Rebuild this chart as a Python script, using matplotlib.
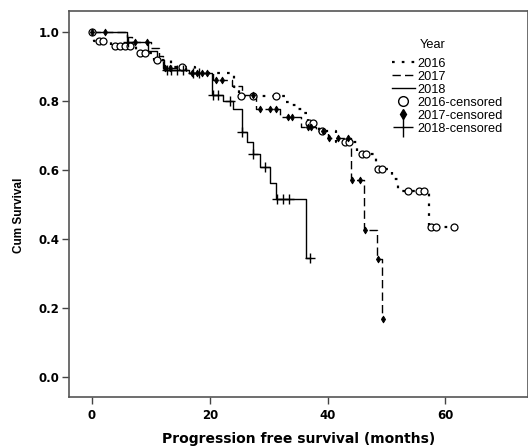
import numpy as np
import matplotlib
matplotlib.use("Agg")
import matplotlib.pyplot as plt
from matplotlib.lines import Line2D

plt.rcParams['font.family'] = ['Liberation Sans', 'DejaVu Sans']

# Kaplan-Meier step curves (time in months, cumulative survival)
t16 = [0, 0.3, 3.2, 7.5, 10.5, 13.5, 17.5, 24.2, 25.0, 32.8, 33.8, 34.8, 35.8, 36.6, 38.5, 41.5, 45.0, 48.2, 51.0, 52.0, 57.3, 61.5]
s16 = [1.0, 0.975, 0.96, 0.94, 0.92, 0.90, 0.88, 0.84, 0.814, 0.798, 0.788, 0.777, 0.765, 0.737, 0.714, 0.68, 0.646, 0.603, 0.575, 0.54, 0.434, 0.434]
c16 = [0, 1.2, 1.9, 3.9, 4.7, 5.6, 6.4, 8.1, 9.0, 11.1, 15.3, 25.3, 27.3, 31.3, 36.9, 37.6, 39.0,
       42.9, 43.6, 45.9, 46.6, 48.6, 49.3, 53.6, 55.6, 56.3, 57.6, 58.4, 61.5]

t17 = [0, 5.9, 6.8, 10.0, 11.3, 12.0, 16.0, 20.5, 23.8, 25.5, 27.8, 32.0, 35.5, 38.0, 40.0, 44.0, 46.2, 48.4, 49.3]
s17 = [1.0, 0.985, 0.97, 0.955, 0.93, 0.895, 0.88, 0.861, 0.843, 0.817, 0.777, 0.754, 0.725, 0.714, 0.693, 0.571, 0.426, 0.342, 0.168]
c17 = [0, 2.2, 7.3, 9.3, 12.4, 13.2, 17.0, 17.8, 18.6, 19.5, 21.1, 22.0, 27.3, 28.5, 30.2, 31.3,
       33.2, 34.0, 36.6, 37.2, 39.3, 40.3, 41.7, 43.4, 44.2, 45.5, 46.4, 48.5, 49.4]

t18 = [0, 6.0, 9.5, 11.0, 12.3, 16.5, 20.3, 22.2, 23.9, 25.4, 26.4, 27.3, 28.5, 30.3, 31.2, 36.4, 37.1]
s18 = [1.0, 0.97, 0.945, 0.92, 0.89, 0.88, 0.817, 0.80, 0.777, 0.711, 0.68, 0.646, 0.61, 0.562, 0.516, 0.345, 0.345]
c18 = [6.1, 12.8, 13.5, 14.5, 15.5, 17.2, 18.2, 20.5, 21.4, 23.4, 25.5, 27.4, 29.3, 31.4, 32.4, 33.4, 37.1]

years = ['2016', '2017', '2018']
xticks = [0, 20, 40, 60]
yticks = [0.0, 0.2, 0.4, 0.6, 0.8, 1.0]


def surv_at(times, surv, c):
    idx = np.searchsorted(np.asarray(times), np.asarray(c), side='right') - 1
    return np.asarray(surv)[idx]


fig = plt.figure(figsize=(5.28, 4.46), dpi=100)
ax = fig.add_axes([0.1307, 0.1099, 0.8700, 0.8654])

dot_ls = (0, (1.2, 3.2))
dash_ls = (0, (6, 3))

ax.step(t16, s16, where='post', color='black', lw=1.6, linestyle=dot_ls)
ax.step(t17, s17, where='post', color='black', lw=1.0, linestyle=dash_ls)
ax.step(t18, s18, where='post', color='black', lw=1.0, linestyle='-')

ax.plot(c16, surv_at(t16, s16, c16), 'o', ms=5.0, mfc='white', mec='black', mew=0.9, ls='none')
ax.plot(c17, surv_at(t17, s17, c17), 'd', ms=3.5, mfc='black', mec='black', mew=0.6, ls='none')
ax.plot(c18, surv_at(t18, s18, c18), '+', ms=6.5, mec='black', mew=1.0, ls='none')

tick_font = dict(family='DejaVu Sans', weight='bold', size=8.5)
ax.set_xlim(-3.9, 74.1)
ax.set_ylim(-0.058, 1.061)
ax.set_xticks(xticks)
ax.set_yticks(yticks)
ax.set_xticklabels([str(v) for v in xticks], fontdict=tick_font)
ax.set_yticklabels([f'{v:.1f}' for v in yticks], fontdict=tick_font)
ax.tick_params(direction='out', length=5, width=1, color='#444444', pad=2)
ax.tick_params(axis='x', pad=4)
for side in ['left', 'bottom', 'top', 'right']:
    ax.spines[side].set_color('#555555')
    ax.spines[side].set_linewidth(1.2)

ax.set_xlabel('Progression free survival (months)', family='DejaVu Sans', fontweight='bold',
              fontsize=10, labelpad=7)
ax.set_ylabel('Cum Survival', fontweight='bold', fontsize=8.5)
ax.yaxis.set_label_coords(-0.096, 0.47)

handles = [
    Line2D([], [], color='black', lw=1.6, linestyle=dot_ls),
    Line2D([], [], color='black', lw=1.0, linestyle=dash_ls),
    Line2D([], [], color='black', lw=1.0, linestyle='-'),
    Line2D([], [], marker='o', ms=7, mfc='white', mec='black', ls='none'),
    Line2D([], [], marker='d', ms=5, mfc='black', mec='black', ls='none'),
    Line2D([], [], marker='+', ms=14, mec='black', mew=1.0, ls='none'),
]
labels = years + [y + '-censored' for y in years]
leg = ax.legend(handles, labels, loc='upper left', bbox_to_anchor=(0.703, 0.879),
                frameon=False, fontsize=9.2, handlelength=1.8, handletextpad=0.2,
                labelspacing=0.08, borderpad=0, borderaxespad=0)
ax.text(0.792, 0.912, 'Year', transform=ax.transAxes, fontsize=9.2, ha='center', va='center')

fig.savefig('out.png', dpi=100)
